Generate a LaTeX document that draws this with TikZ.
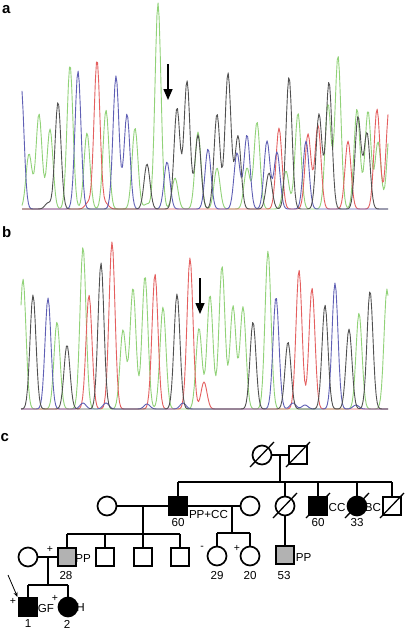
\documentclass[tikz,border=0pt]{standalone}
\usepackage{fontspec}
\setmainfont{Liberation Sans}
\usetikzlibrary{arrows.meta}
\definecolor{cg}{RGB}{145,210,120}
\definecolor{cr}{RGB}{228,95,95}
\definecolor{cb}{RGB}{95,95,180}
\definecolor{ck}{RGB}{80,80,80}
\definecolor{pedgrey}{RGB}{178,178,178}
\begin{document}
\begin{tikzpicture}[x=1pt,y=-1pt,
  declare function={g(\gx,\gc,\gh)=\gh*exp(-((\gx-\gc)/4.2)^2);},
  trace/.style={line width=0.9pt, line join=round},
  ped/.style={line width=1.7pt},
  slash/.style={line width=1.3pt},
  sq/.style={rectangle, draw, line width=1.7pt, minimum size=17.5pt, inner sep=0pt, fill=white},
  ci/.style={circle, draw, line width=1.7pt, minimum size=19pt, inner sep=0pt, fill=white},
  aff/.style={fill=black},
  car/.style={fill=pedgrey},
  lab/.style={font=\fontsize{11.6}{13}\selectfont, inner sep=0pt},
  sgn/.style={font=\fontsize{10.5}{12}\selectfont, inner sep=0pt},
  panel/.style={font=\fontsize{15}{17}\selectfont\bfseries, inner sep=0pt, anchor=base west},
  bigarrow/.style={line width=1.5pt, -{Triangle[length=11pt,width=9pt]}},
]
\fill[white] (0,0) rectangle (406,629);
\useasboundingbox (0,0) rectangle (406,629);

% ---------------- panel a ----------------
\node[panel] (la) at (2,13) {a};
\draw[trace,cg] plot[domain=22:388,samples=340] (\x,{209-(g(\x,29,55)+g(\x,39,95)+g(\x,50,80)+g(\x,70,144)+g(\x,87,76)+g(\x,106,99)+g(\x,135,81)+g(\x,147,5)+g(\x,158,206)+g(\x,175,31)+g(\x,198,77)+g(\x,217,41)+g(\x,247,41)+g(\x,257,87)+g(\x,286,38)+g(\x,298,96)+g(\x,328,105)+g(\x,338,153)+g(\x,357,100)+g(\x,368,98)+g(\x,378,67)+g(\x,390,82))});
\draw[trace,cr] plot[domain=22:388,samples=340] (\x,{209-(g(\x,88,6)+g(\x,97,149)+g(\x,106,5)+g(\x,279,81)+g(\x,308,75)+g(\x,318,84)+g(\x,348,68)+g(\x,377,100)+g(\x,389,100))});
\draw[trace,cb] plot[domain=22:388,samples=340] (\x,{209-(g(\x,21,125)+g(\x,78,138)+g(\x,116,133)+g(\x,127,95)+g(\x,167,47)+g(\x,208,60)+g(\x,237,56)+g(\x,247,74)+g(\x,267,68)+g(\x,277,57)+g(\x,306,68))});
\draw[trace,ck] plot[domain=22:388,samples=340] (\x,{209-(g(\x,48,6)+g(\x,58,107)+g(\x,147,45)+g(\x,177,101)+g(\x,187,128)+g(\x,198,74)+g(\x,217,95)+g(\x,228,136)+g(\x,238,73)+g(\x,269,36)+g(\x,289,132)+g(\x,319,95)+g(\x,329,127)+g(\x,358,92)+g(\x,367,76))});
\coordinate (aA1) at (168,64);
\coordinate (aA2) at (168,100);
\draw[bigarrow] (aA1) -- (aA2);

% ---------------- panel b ----------------
\node[panel] (lb) at (2,237) {b};
\draw[trace,cg] plot[domain=21:388,samples=340] (\x,{409-(g(\x,23,130)+g(\x,57,87)+g(\x,83,162)+g(\x,123,79)+g(\x,133,121)+g(\x,145,133)+g(\x,163,102)+g(\x,199,81)+g(\x,210,114)+g(\x,222,143)+g(\x,233,103)+g(\x,243,102)+g(\x,268,158)+g(\x,359,96)+g(\x,387,120))});
\draw[trace,cr] plot[domain=21:388,samples=340] (\x,{409-(g(\x,89,114)+g(\x,112,167)+g(\x,155,135)+g(\x,190,151)+g(\x,204,27)+g(\x,299,139)+g(\x,312,121))});
\draw[trace,cb] plot[domain=21:388,samples=340] (\x,{409-(g(\x,48,111)+g(\x,83,6)+g(\x,106,6)+g(\x,147,5)+g(\x,183,6)+g(\x,276,112)+g(\x,293,6)+g(\x,305,4)+g(\x,335,126)+g(\x,356,4))});
\draw[trace,ck] plot[domain=21:388,samples=340] (\x,{409-(g(\x,33,114)+g(\x,67,64)+g(\x,101,146)+g(\x,177,115)+g(\x,253,87)+g(\x,288,67)+g(\x,325,104)+g(\x,349,80)+g(\x,370,118))});
\coordinate (bA1) at (200,278);
\coordinate (bA2) at (200,314);
\draw[bigarrow] (bA1) -- (bA2);

% ---------------- panel c ----------------
\node[panel] (lc) at (0.5,441) {c};

% generation I
\node[ci] (I1) at (262,455) {};
\node[sq] (I2) at (298,455) {};
\draw[ped] (I1) -- (I2);
\coordinate (m1) at (280,455);
\coordinate (s1) at (280,482);
\draw[ped] (m1) -- (s1);

% generation II
\node[sq,aff] (II1) at (178,506) {};
\node[ci] (II2) at (285,506) {};
\node[sq,aff] (II3) at (318,506) {};
\node[ci,aff] (II4) at (357,506) {};
\node[sq] (II5) at (392,506) {};
\draw[ped] (II1.north |- s1) -- (II5.north |- s1);
\foreach \n in {II1,II2,II3,II4,II5} \draw[ped] (\n.north) -- (\n.north |- s1);

\node[ci] (sp1) at (107,506) {};
\node[ci] (sp2) at (250,506) {};
\draw[ped] (sp1) -- (II1);
\draw[ped] (II1) -- (sp2);

% children of sp1 x II1
\coordinate (m2) at (143,506);
\coordinate (s2) at (143,534);
\draw[ped] (m2) -- (s2);
\node[sq,car] (III1) at (67,557) {};
\node[sq] (III2) at (105,557) {};
\node[sq] (III3) at (143,557) {};
\node[sq] (III4) at (180,557) {};
\draw[ped] (III1.north |- s2) -- (III4.north |- s2);
\foreach \n in {III1,III2,III3,III4} \draw[ped] (\n.north) -- (\n.north |- s2);

% children of II1 x sp2
\coordinate (m3) at (232,506);
\coordinate (s3) at (232,533);
\draw[ped] (m3) -- (s3);
\node[ci] (III5) at (217,556) {};
\node[ci] (III6) at (250,556) {};
\draw[ped] (III5.north |- s3) -- (III6.north |- s3);
\foreach \n in {III5,III6} \draw[ped] (\n.north) -- (\n.north |- s3);

% child of II2
\node[sq,car] (III7) at (285,555) {};
\draw[ped] (II2) -- (III7);

% generation IV
\node[ci] (sp3) at (28,557) {};
\draw[ped] (sp3) -- (III1);
\coordinate (m4) at (48,557);
\coordinate (s4) at (48,585);
\draw[ped] (m4) -- (s4);
\node[sq,aff] (IV1) at (28,607) {};
\node[ci,aff] (IV2) at (68,607) {};
\draw[ped] (IV1.north |- s4) -- (IV2.north |- s4);
\foreach \n in {IV1,IV2} \draw[ped] (\n.north) -- (\n.north |- s4);

% deceased slashes
\foreach \n in {I1,I2,II2,II3,II4,II5}
  \draw[slash] ([shift={(-12,12)}]\n.center) -- ([shift={(12,-13)}]\n.center);

% proband arrow
\coordinate (pa) at (8,575);
\coordinate (pb) at (17.5,597);
\draw[line width=0.8pt, -{Stealth[length=5pt,width=4pt]}] (pa) -- (pb);

% labels
\node[lab] (tPPCC) at (208.5,514) {PP+CC};
\node[lab] (t60a) at (178,522) {60};
\node[lab] (tCC) at (337,507) {CC};
\node[lab] (tBC) at (373,507) {BC};
\node[lab] (t60b) at (318,522) {60};
\node[lab] (t33) at (357,522) {33};
\node[lab] (tPPa) at (83,559) {PP};
\node[lab] (t28) at (66,575) {28};
\node[lab] (t29) at (217,575) {29};
\node[lab] (t20) at (250,575) {20};
\node[lab] (tPPb) at (303.5,558) {PP};
\node[lab] (t53) at (284,575) {53};
\node[lab] (tGF) at (46,608.5) {GF};
\node[lab] (tH) at (80.5,608) {H};
\node[lab] (t1) at (28,624) {1};
\node[lab] (t2) at (67,624) {2};
\node[sgn] (pl1) at (50,549) {+};
\node[sgn] (mi1) at (202,548) {-};
\node[sgn] (pl2) at (237,548) {+};
\node[sgn] (pl3) at (13,601) {+};
\node[sgn] (pl4) at (55,598.5) {+};
\end{tikzpicture}
\end{document}
